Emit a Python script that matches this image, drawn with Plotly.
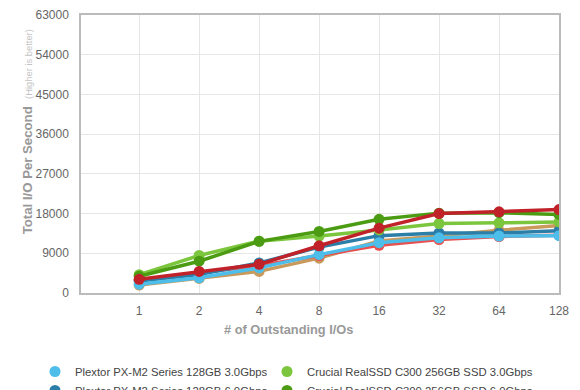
import plotly.graph_objects as go

queue_depths = ["1", "2", "4", "8", "16", "32", "64", "128"]

series_names = [
    "Plextor PX-M2 Series 128GB 3.0Gbps",
    "Plextor PX-M2 Series 128GB 6.0Gbps",
    "Crucial RealSSD C300 256GB SSD 3.0Gbps",
    "Crucial RealSSD C300 256GB SSD 6.0Gbps",
    "OCZ Vertex 2 120GB SSD 3.0Gbps",
    "Intel X25-M G2 160GB SSD 3.0Gbps",
    "Kingston SSDNow V+ 128GB SSD 3.0Gbps",
]

plextor_3g = [2000, 3450, 5700, 8700, 11400, 12500, 12900, 13000]
plextor_6g = [2700, 4200, 6800, 10400, 13000, 13600, 13600, 14100]
crucial_3g = [4150, 8500, 11750, 12900, 14300, 15750, 15900, 16100]
crucial_6g = [3800, 7200, 11700, 13950, 16700, 18100, 18200, 17800]
red_dark = [3100, 4900, 6500, 10700, 14700, 18000, 18400, 18900]
red_light = [2900, 4600, 6200, 8500, 10800, 12100, 12800, 13100]
tan = [1800, 3300, 4900, 7900, 11800, 12900, 14200, 15300]

colors = {
    "p3": "#4dbde9",
    "p6": "#2b7ea8",
    "c3": "#7cc63d",
    "c6": "#4b9c12",
    "rd": "#c1222a",
    "rl": "#e8504f",
    "tn": "#c99a5b",
}

# (values, color, legend column, rank, name) in drawing order (later on top)
draw = [
    (tan, colors["tn"], "legend", 4, series_names[6]),
    (red_light, colors["rl"], "legend2", 3, series_names[5]),
    (plextor_6g, colors["p6"], "legend", 2, series_names[1]),
    (plextor_3g, colors["p3"], "legend", 1, series_names[0]),
    (crucial_3g, colors["c3"], "legend2", 1, series_names[2]),
    (crucial_6g, colors["c6"], "legend2", 2, series_names[3]),
    (red_dark, colors["rd"], "legend", 3, series_names[4]),
]

fig = go.Figure()
for vals, col, leg, rank, name in draw:
    fig.add_trace(go.Scatter(
        x=queue_depths, y=vals, mode="lines+markers", name=name,
        line=dict(color=col, width=3.5),
        marker=dict(color=col, size=11),
        showlegend=False, hoverinfo="skip",
    ))
# legend entries (circle only)
for vals, col, leg, rank, name in sorted(draw, key=lambda d: (d[2], d[3])):
    fig.add_trace(go.Scatter(
        x=[None], y=[None], mode="markers", name=name,
        marker=dict(color=col, size=11), legend=leg, legendrank=rank,
    ))

W, H = 572, 382  # page body has an 8px margin
L, R, T, B = 73, 551, 7, 285.5
PW, PH = R - L, B - T

legend_common = dict(
    orientation="v", xref="container", yref="container",
    xanchor="left", yanchor="top", itemwidth=30, tracegroupgap=0,
    font=dict(size=11.3, color="#444"), bgcolor="rgba(0,0,0,0)",
)

fig.update_layout(
    width=W, height=H,
    margin=dict(l=L, r=W - R, t=T, b=H - B, autoexpand=False),
    paper_bgcolor="white", plot_bgcolor="white",
    font=dict(family="Liberation Sans, Arial, sans-serif", size=12, color="#555"),
    xaxis=dict(
        type="category", range=[-0.97, 7],
        showgrid=True, gridcolor="#e6e6e6", gridwidth=1,
        showline=True, linecolor="#bbbbbb", linewidth=1.5, mirror=True,
        ticks="", ticklabelstandoff=6,
        tickfont=dict(size=12, color="#666"),
    ),
    yaxis=dict(
        range=[0, 63000], dtick=9000, tick0=0, tickformat="d",
        showgrid=True, gridcolor="#e6e6e6", gridwidth=1,
        showline=True, linecolor="#bbbbbb", linewidth=1.5, mirror=True,
        zeroline=False, ticks="", ticklabelstandoff=8,
        tickfont=dict(size=12, color="#666"),
    ),
    showlegend=True,
    legend=dict(x=27 / W, y=1 - 349 / H, **legend_common),
    legend2=dict(x=259 / W, y=1 - 349 / H, **legend_common),
    annotations=[
        dict(
            text="<b># of Outstanding I/Os</b>",
            xref="paper", yref="paper",
            x=(280 - L) / PW, y=1 - (322 - T) / PH,
            xanchor="center", yanchor="middle", showarrow=False,
            font=dict(size=12.8, color="#999"),
        ),
        dict(
            text="<b>Total I/O Per Second</b>  <span style='font-size:9.4px;color:#c4c4c4'>(Higher is better)</span>",
            xref="paper", yref="paper",
            x=(19 - L) / PW, y=1 - (124.5 - T) / PH,
            xanchor="center", yanchor="middle", showarrow=False,
            textangle=-90,
            font=dict(size=13.2, color="#999"),
        ),
    ],
)

fig.write_html("out.html")
